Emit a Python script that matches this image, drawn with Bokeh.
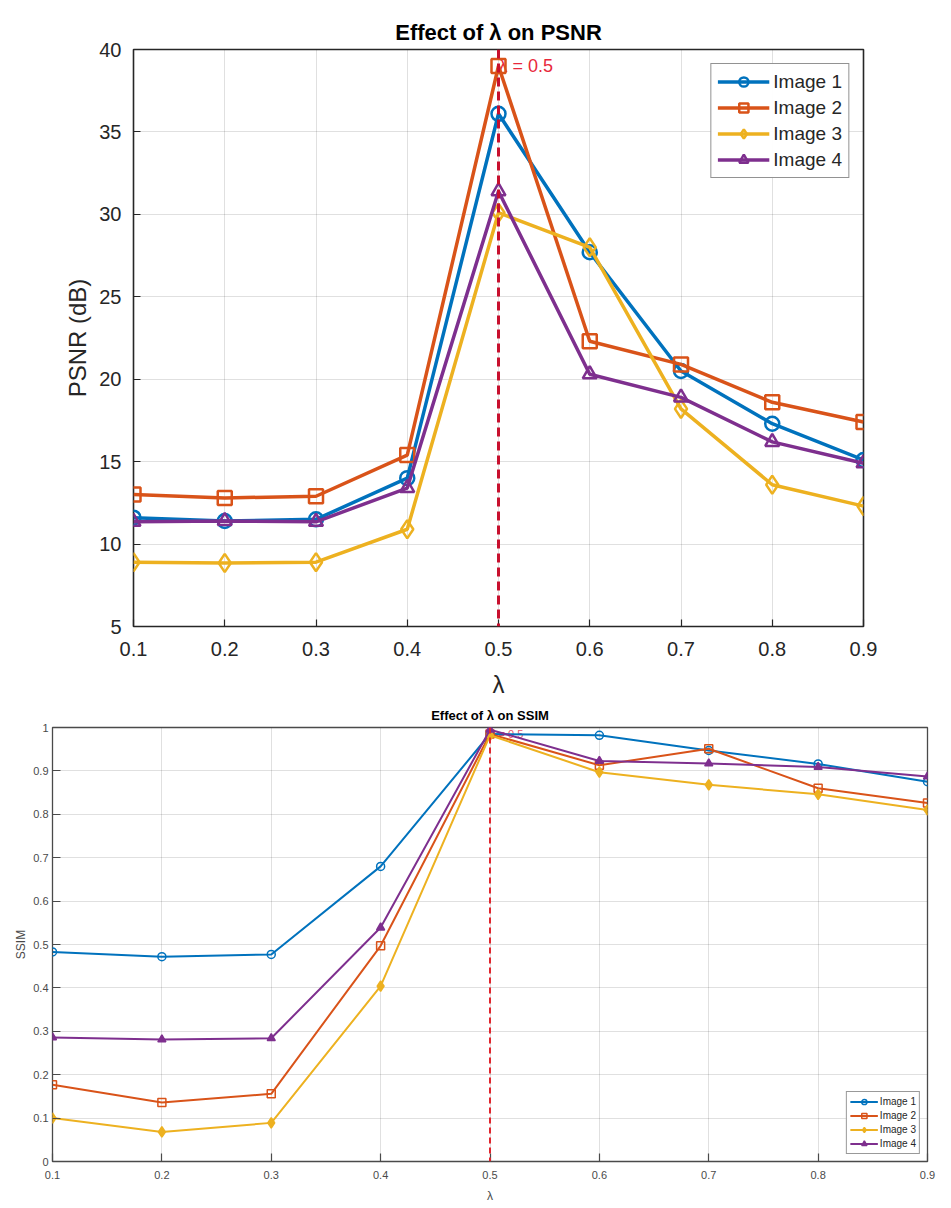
from bokeh.embed import file_html
from bokeh.layouts import column
from bokeh.models import FixedTicker, Label, Range1d, Span
from bokeh.plotting import figure
from bokeh.resources import INLINE

# lambda values on the x axis
lam = [0.1, 0.2, 0.3, 0.4, 0.5, 0.6, 0.7, 0.8, 0.9]
lam_best = 0.5
image_names = ["Image 1", "Image 2", "Image 3", "Image 4"]

# PSNR (dB) per image
psnr_img1 = [11.6, 11.4, 11.5, 14.0, 36.1, 27.7, 20.5, 17.3, 15.1]
psnr_img2 = [13.0, 12.8, 12.9, 15.4, 39.0, 22.3, 20.9, 18.6, 17.4]
psnr_img3 = [8.9, 8.85, 8.9, 10.9, 30.1, 28.0, 18.2, 13.6, 12.3]
psnr_img4 = [11.35, 11.4, 11.35, 13.4, 31.4, 20.3, 18.9, 16.2, 14.9]

# SSIM per image
ssim_img1 = [0.483, 0.472, 0.477, 0.680, 0.985, 0.982, 0.947, 0.916, 0.875]
ssim_img2 = [0.177, 0.136, 0.156, 0.497, 0.985, 0.913, 0.951, 0.860, 0.826]
ssim_img3 = [0.100, 0.068, 0.089, 0.404, 0.982, 0.897, 0.868, 0.846, 0.810]
ssim_img4 = [0.286, 0.281, 0.284, 0.539, 0.995, 0.923, 0.917, 0.909, 0.887]

psnr_ticks = [5, 10, 15, 20, 25, 30, 35, 40]
ssim_ticks = [0, 0.1, 0.2, 0.3, 0.4, 0.5, 0.6, 0.7, 0.8, 0.9, 1]

colors = ["#0072BD", "#D95319", "#EDB120", "#7E2F8E"]
markers = ["circle", "square", "diamond", "triangle"]
FONT = "Liberation Sans"


def style_axes(p, tick_size, label_size, color, tick_len, x_standoffs, y_standoffs):
    for ax in p.axis:
        ax.axis_line_color = None
        ax.major_tick_in = tick_len
        ax.major_tick_out = 0
        ax.major_tick_line_color = color
        ax.major_tick_line_width = 1.2
        ax.minor_tick_line_color = None
        ax.major_label_text_font = FONT
        ax.major_label_text_font_size = tick_size
        ax.major_label_text_color = color
        ax.axis_label_text_font = FONT
        ax.axis_label_text_font_size = label_size
        ax.axis_label_text_font_style = "normal"
        ax.axis_label_text_color = color
    p.xaxis.major_label_standoff, p.xaxis.axis_label_standoff = x_standoffs
    p.yaxis.major_label_standoff, p.yaxis.axis_label_standoff = y_standoffs
    p.grid.grid_line_color = "#262626"
    p.grid.grid_line_alpha = 0.14
    p.outline_line_color = color
    p.outline_line_alpha = 1.0


def add_series(p, series, line_width, size, marker_width, filled_markers):
    for name, ys, color, marker in zip(image_names, series, colors, markers):
        p.line(lam, ys, color=color, line_width=line_width, legend_label=name)
        filled = marker in filled_markers
        # bokeh's diamond is narrower than MATLAB's, bump it a little
        msize = size * 1.3 if marker == "diamond" else size
        p.scatter(
            lam,
            ys,
            marker=marker,
            size=msize,
            line_color=color,
            line_width=marker_width,
            fill_color=color,
            fill_alpha=1.0 if filled else 0.0,
            legend_label=name,
        )


# ---- PSNR ----
p1 = figure(
    width=945,
    height=700,
    x_range=Range1d(0.1, 0.9),
    y_range=Range1d(5, 40),
    title="Effect of λ on PSNR",
    x_axis_label="λ",
    y_axis_label="PSNR (dB)",
    output_backend="svg",
    toolbar_location=None,
    min_border_left=133,
    min_border_right=82,
    min_border_top=49,
    min_border_bottom=74,
    frame_align=False,
)
p1.title.align = "center"
p1.title.text_font = FONT
p1.title.text_font_size = "22px"
p1.title.text_font_style = "bold"
p1.title.text_color = "#000000"
p1.xaxis.ticker = FixedTicker(ticks=lam)
p1.yaxis.ticker = FixedTicker(ticks=psnr_ticks)
style_axes(p1, "20px", "24px", "#262626", 7, (15, 12), (12, 5))
p1.outline_line_width = 1.6

add_series(
    p1, [psnr_img1, psnr_img2, psnr_img3, psnr_img4], 3.5, 14, 2.5, []
)
p1.add_layout(
    Span(location=lam_best, dimension="height", line_color="#C8102E",
         line_width=3, line_dash="9 5")
)
lbl1 = Label(x=lam_best, y=39, text=" λ = 0.5", text_color="#E8283C",
             text_font=FONT, text_font_size="18px", text_baseline="middle")
lbl1.level = "underlay"
p1.add_layout(lbl1)

p1.legend.location = "top_right"
p1.legend.margin = 14
p1.legend.padding = 6
p1.legend.spacing = 3
p1.legend.glyph_width = 52
p1.legend.glyph_height = 23
p1.legend.label_standoff = 4
p1.legend.label_text_font = FONT
p1.legend.label_text_font_size = "19px"
p1.legend.label_text_color = "#262626"
p1.legend.border_line_color = "#262626"
p1.legend.border_line_width = 1.5

# ---- SSIM ----
p2 = figure(
    width=945,
    height=506,
    x_range=Range1d(0.1, 0.9),
    y_range=Range1d(0, 1),
    title="Effect of λ on SSIM",
    x_axis_label="λ",
    y_axis_label="SSIM",
    output_backend="svg",
    toolbar_location=None,
    min_border_left=52,
    min_border_right=18,
    min_border_top=25,
    min_border_bottom=45,
    frame_align=False,
)
p2.title.align = "center"
p2.title.text_font = FONT
p2.title.text_font_size = "13px"
p2.title.text_font_style = "bold"
p2.title.text_color = "#000000"
p2.xaxis.ticker = FixedTicker(ticks=lam)
p2.yaxis.ticker = FixedTicker(ticks=ssim_ticks)
p2.yaxis.major_label_overrides = {0: "0", 1: "1"}
style_axes(p2, "11px", "12px", "#4a4a4a", 8, (9, 7), (4, 2))
p2.outline_line_width = 1.3

add_series(
    p2, [ssim_img1, ssim_img2, ssim_img3, ssim_img4], 2, 8, 1.5,
    ["diamond", "triangle"],
)
p2.add_layout(
    Span(location=lam_best, dimension="height", line_color="#E0262E",
         line_width=2, line_dash="6 4")
)
lbl2 = Label(x=lam_best, y=0.984, text=" λ = 0.5", text_color="#E8506A",
             text_font=FONT, text_font_size="11px", text_baseline="middle")
lbl2.level = "underlay"
p2.add_layout(lbl2)

p2.legend.location = "bottom_right"
p2.legend.margin = 7
p2.legend.padding = 3
p2.legend.spacing = 1
p2.legend.glyph_width = 28
p2.legend.glyph_height = 13
p2.legend.label_standoff = 2
p2.legend.label_text_font = FONT
p2.legend.label_text_font_size = "10px"
p2.legend.label_text_color = "#262626"
p2.legend.border_line_color = "#333333"
p2.legend.border_line_width = 1

layout = column(p1, p2, spacing=0)
open("out.html", "w").write(file_html(layout, INLINE))
